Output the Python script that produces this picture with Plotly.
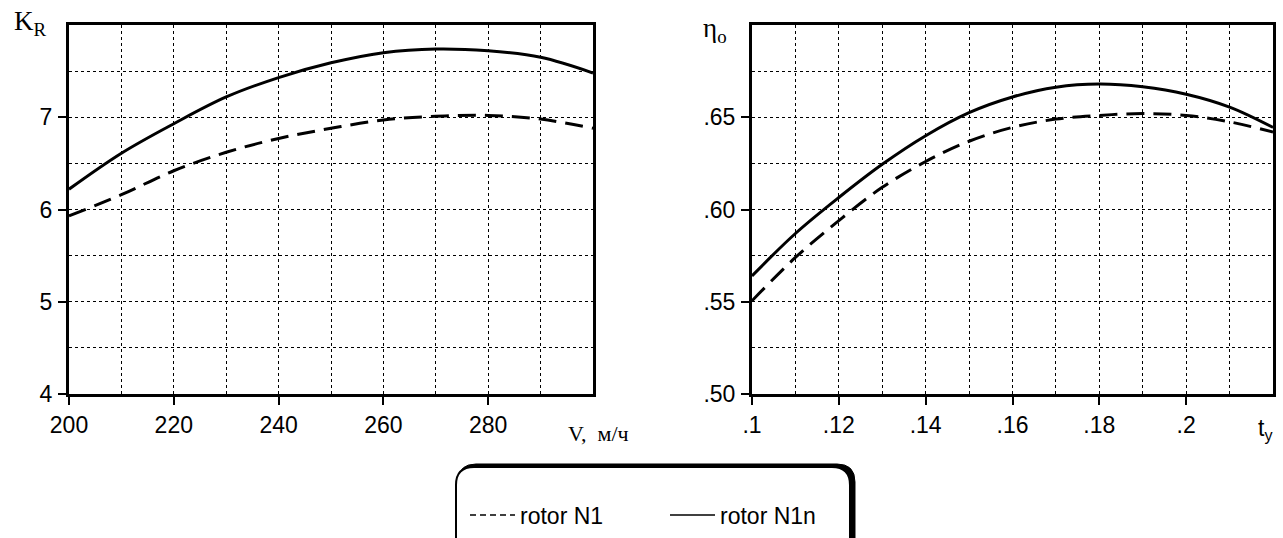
import plotly.graph_objects as go

# ---------------- data ----------------
v_speed = [200, 210, 220, 230, 240, 250, 260, 270, 280, 290, 300]
kr_n1 = [5.93, 6.16, 6.42, 6.62, 6.77, 6.88, 6.97, 7.01, 7.02, 6.98, 6.88]
kr_n1n = [6.22, 6.61, 6.93, 7.22, 7.43, 7.59, 7.70, 7.74, 7.72, 7.65, 7.48]

t_y = [0.10, 0.11, 0.12, 0.13, 0.14, 0.15, 0.16, 0.17, 0.18, 0.19, 0.20, 0.21, 0.22]
eta_n1 = [0.5505, 0.574, 0.594, 0.612, 0.626, 0.637, 0.6445, 0.649, 0.651, 0.652, 0.651, 0.6475, 0.642]
eta_n1n = [0.564, 0.587, 0.6065, 0.6245, 0.640, 0.6525, 0.661, 0.6663, 0.668, 0.6665, 0.6625, 0.6555, 0.6445]

left_xticks = [200, 220, 240, 260, 280]
left_xlabels = ["200", "220", "240", "260", "280"]
left_yticks = [4, 5, 6, 7]
left_ylabels = ["4", "5", "6", "7"]
right_xticks = [0.10, 0.12, 0.14, 0.16, 0.18, 0.20]
right_xlabels = [".1", ".12", ".14", ".16", ".18", ".2"]
right_yticks = [0.50, 0.55, 0.60, 0.65]
right_ylabels = [".50", ".55", ".60", ".65"]

series_names = ["rotor N1", "rotor N1n"]

# ---------------- layout geometry ----------------
W, H = 1283, 538
ML, MR, MT, MB = 69, 10, 25, 144
PW = W - ML - MR
PH = H - MT - MB


def px_x(x):
    return (x - ML) / PW


def px_y(y):
    return (H - MB - y) / PH


dom1 = [0, px_x(593)]
dom2 = [px_x(752), 1]

LW = 3
dash_style = "18px,9px"

fig = go.Figure()
fig.add_trace(go.Scatter(x=v_speed, y=kr_n1, mode="lines", name=series_names[0], showlegend=False,
                         line=dict(color="black", width=LW, dash=dash_style, shape="spline"),
                         xaxis="x", yaxis="y"))
fig.add_trace(go.Scatter(x=v_speed, y=kr_n1n, mode="lines", name=series_names[1], showlegend=False,
                         line=dict(color="black", width=LW, shape="spline"),
                         xaxis="x", yaxis="y"))
fig.add_trace(go.Scatter(x=t_y, y=eta_n1, mode="lines", name=series_names[0], showlegend=False,
                         line=dict(color="black", width=LW, dash=dash_style, shape="spline"),
                         xaxis="x2", yaxis="y2"))
fig.add_trace(go.Scatter(x=t_y, y=eta_n1n, mode="lines", name=series_names[1], showlegend=False,
                         line=dict(color="black", width=LW, shape="spline"),
                         xaxis="x2", yaxis="y2"))
# legend-only entries with thin sample lines (as in the reference legend)
fig.add_trace(go.Scatter(x=[None], y=[None], mode="lines", name=series_names[0],
                         line=dict(color="black", width=1.5, dash="6px,4px"), xaxis="x", yaxis="y"))
fig.add_trace(go.Scatter(x=[None], y=[None], mode="lines", name=series_names[1],
                         line=dict(color="black", width=1.5), xaxis="x", yaxis="y"))

tickfont = dict(family="Liberation Sans, Arial, sans-serif", size=23, color="black")

common = dict(showline=True, linecolor="black", linewidth=LW, mirror=True,
              showgrid=True, gridcolor="black", gridwidth=1, griddash="dot",
              ticks="outside", ticklen=8, tickwidth=2, tickcolor="black",
              tickfont=tickfont, zeroline=False, tickmode="array", automargin=False)

fig.update_layout(
    width=W, height=H,
    margin=dict(l=ML, r=MR, t=MT, b=MB, autoexpand=False),
    paper_bgcolor="white", plot_bgcolor="white",
    showlegend=True,
    xaxis=dict(domain=dom1, range=[200, 300], tickvals=left_xticks, ticktext=left_xlabels,
               ticklabelstandoff=0,
               minor=dict(tick0=200, dtick=10, showgrid=True, gridcolor="black", gridwidth=1,
                          griddash="dot", ticks=""),
               anchor="y", **common),
    yaxis=dict(domain=[0, 1], range=[4, 8], tickvals=left_yticks, ticktext=left_ylabels,
               ticklabelstandoff=1,
               minor=dict(tick0=4, dtick=0.5, showgrid=True, gridcolor="black", gridwidth=1,
                          griddash="dot", ticks=""),
               anchor="x", **common),
    xaxis2=dict(domain=dom2, range=[0.10, 0.22], tickvals=right_xticks, ticktext=right_xlabels,
                ticklabelstandoff=0,
                minor=dict(tick0=0.10, dtick=0.01, showgrid=True, gridcolor="black", gridwidth=1,
                           griddash="dot", ticks=""),
                anchor="y2", **common),
    yaxis2=dict(domain=[0, 1], range=[0.50, 0.70], tickvals=right_yticks, ticktext=right_ylabels,
                ticklabelstandoff=1,
                minor=dict(tick0=0.50, dtick=0.025, showgrid=True, gridcolor="black", gridwidth=1,
                           griddash="dot", ticks=""),
                anchor="x2", **common),
    legend=dict(orientation="h", x=px_x(465), xanchor="left", y=px_y(515), yanchor="middle",
                xref="paper", yref="paper", bgcolor="rgba(0,0,0,0)",
                font=dict(family="Liberation Sans, Arial, sans-serif", size=23, color="black"),
                itemwidth=45, entrywidthmode="pixels", entrywidth=140, tracegroupgap=0),
)

# axis titles as annotations
serif = "Liberation Serif, Times New Roman, serif"
sans = "Liberation Sans, Arial, sans-serif"
fig.add_annotation(x=px_x(12), y=px_y(23), xref="paper", yref="paper", xanchor="left", yanchor="middle",
                   text="K<sub>R</sub>", showarrow=False, font=dict(family=serif, size=27, color="black"))
fig.add_annotation(x=px_x(598), y=px_y(433), xref="paper", yref="paper", xanchor="center", yanchor="middle",
                   text="V,  м/ч", showarrow=False, font=dict(family=serif, size=22, color="black"))
fig.add_annotation(x=px_x(701), y=px_y(30), xref="paper", yref="paper", xanchor="left", yanchor="middle",
                   text="η<sub>o</sub>", showarrow=False, font=dict(family=serif, size=27, color="black"))
fig.add_annotation(x=px_x(1265), y=px_y(429), xref="paper", yref="paper", xanchor="center", yanchor="middle",
                   text="t<sub>y</sub>", showarrow=False, font=dict(family=sans, size=23, color="black"))


def rounded_rect(x0, y0, x1, y1, r):
    # coordinates in page pixels -> paper path
    def P(x, y):
        return f"{px_x(x):.5f},{px_y(y):.5f}"
    return (f"M {P(x0 + r, y0)} L {P(x1 - r, y0)} Q {P(x1, y0)} {P(x1, y0 + r)} "
            f"L {P(x1, y1 - r)} Q {P(x1, y1)} {P(x1 - r, y1)} "
            f"L {P(x0 + r, y1)} Q {P(x0, y1)} {P(x0, y1 - r)} "
            f"L {P(x0, y0 + r)} Q {P(x0, y0)} {P(x0 + r, y0)} Z")


box_l, box_t, box_r, box_b = 456, 467, 850, 560
fig.add_shape(type="path", xref="paper", yref="paper",
              path=rounded_rect(box_l + 2, box_t - 3, box_r + 5, box_b, 18),
              fillcolor="black", line=dict(color="black", width=1), layer="above")
fig.add_shape(type="path", xref="paper", yref="paper",
              path=rounded_rect(box_l, box_t, box_r, box_b, 18),
              fillcolor="white", line=dict(color="black", width=2), layer="above")

fig.write_html("out.html")
